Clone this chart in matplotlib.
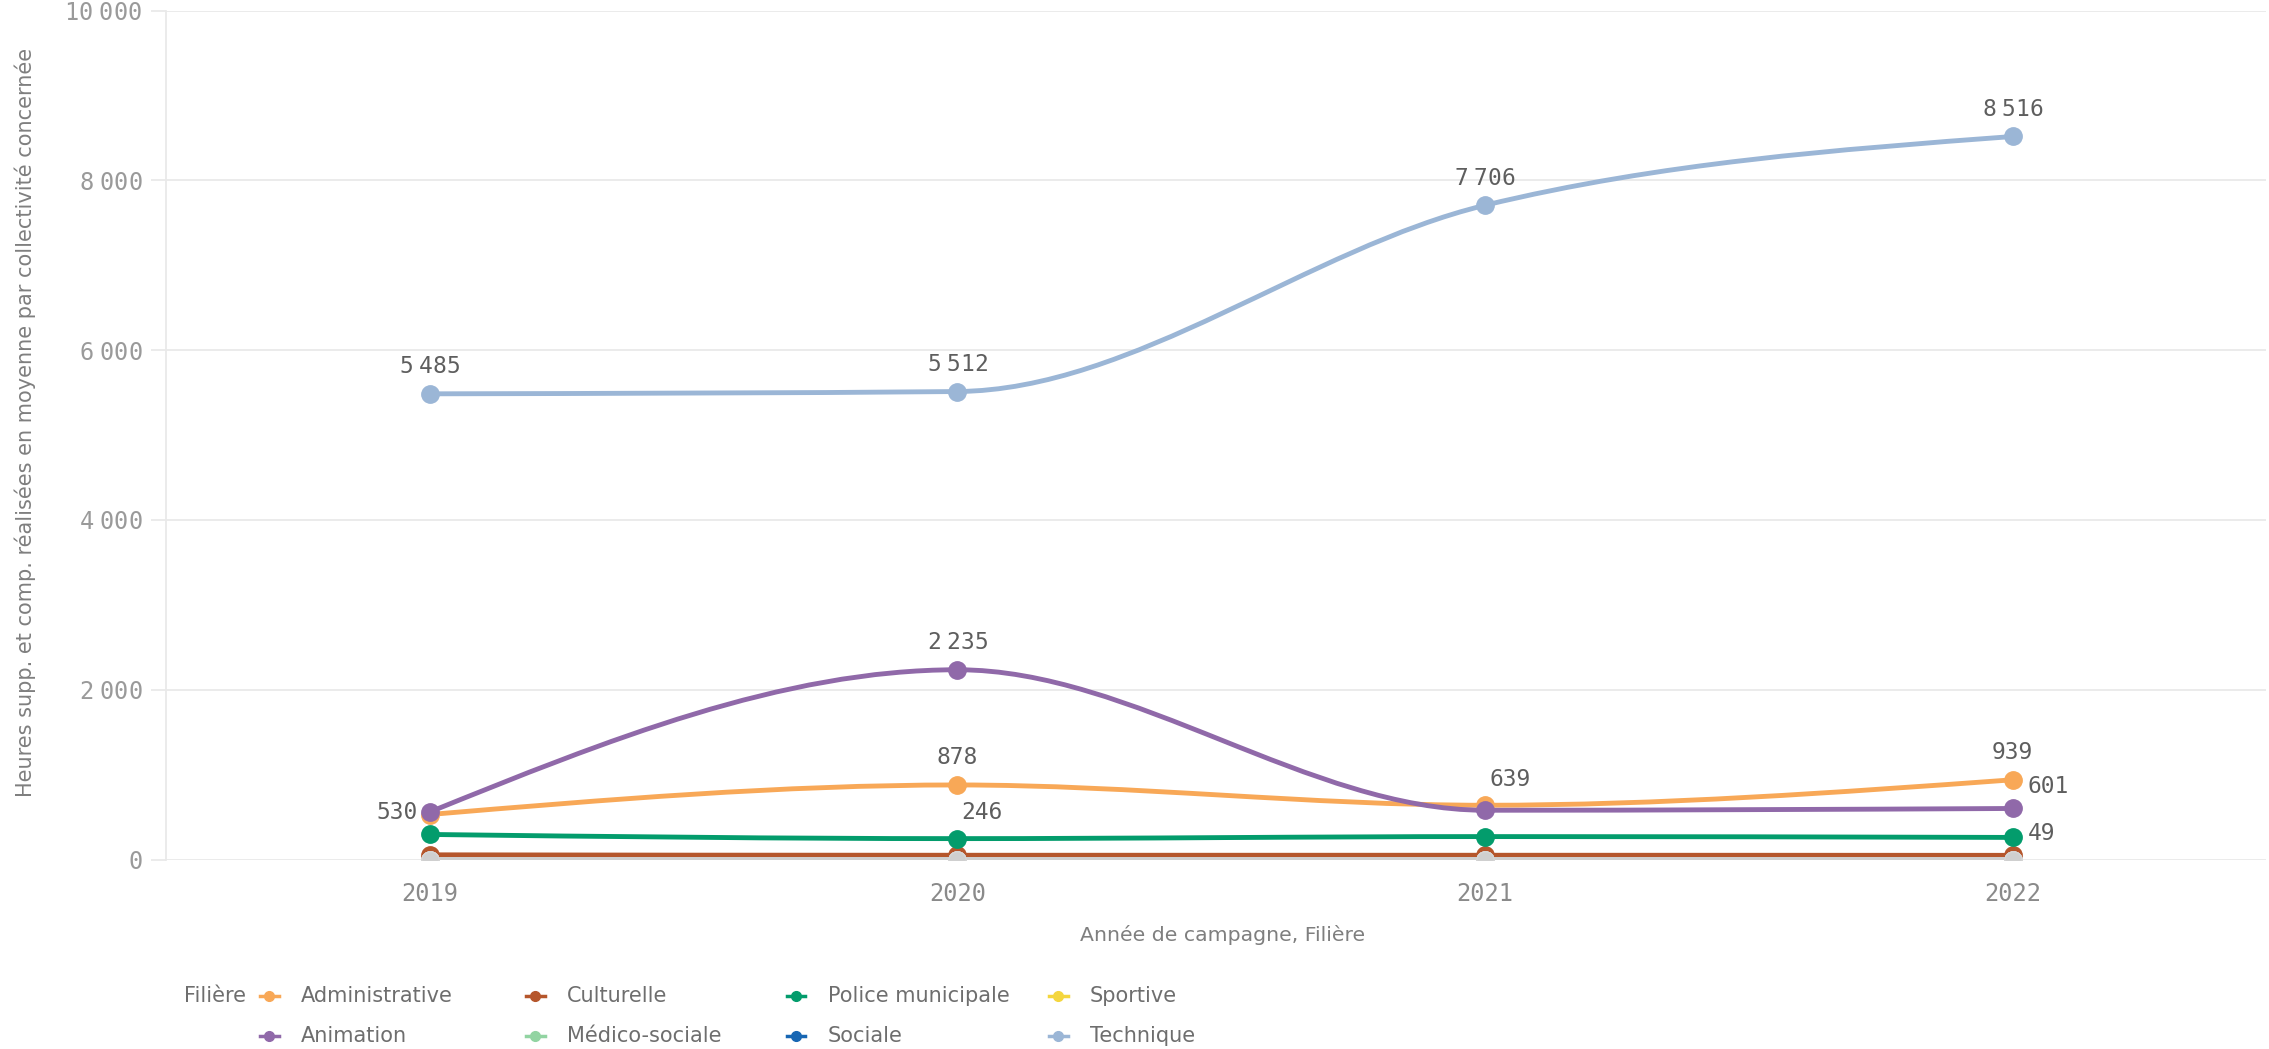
import matplotlib
matplotlib.use('Agg')
import matplotlib.pyplot as plt
import numpy as np
from matplotlib.path import Path
from matplotlib.patches import PathPatch
from matplotlib.lines import Line2D

# ---------------- data ----------------
years = ['2019', '2020', '2021', '2022']
administrative = [530, 878, 639, 939]
animation = [560, 2235, 580, 601]
culturelle = [55, 50, 50, 49]
medico_sociale = [0, 0, 0, 0]
police_municipale = [295, 246, 270, 260]
sociale = [0, 0, 0, 0]
sportive = [0, 0, 0, 0]
technique = [5485, 5512, 7706, 8516]

y_ticks = [0, 2000, 4000, 6000, 8000, 10000]

# ---------------- styles ----------------
W, H = 2269, 1049
colors = {
    'Administrative': '#f8a857',
    'Animation': '#9069a9',
    'Culturelle': '#b5562c',
    'Médico-sociale': '#92d4a2',
    'Police municipale': '#039c6c',
    'Sociale': '#1766b3',
    'Sportive': '#f4d63e',
    'Technique': '#9bb6d6',
}
series = {
    'Administrative': administrative,
    'Animation': animation,
    'Culturelle': culturelle,
    'Médico-sociale': medico_sociale,
    'Police municipale': police_municipale,
    'Sociale': sociale,
    'Sportive': sportive,
    'Technique': technique,
}
# drawing order (bottom -> top)
draw_order = ['Technique', 'Culturelle', 'Sportive', 'Médico-sociale', 'Sociale',
              'Police municipale', 'Administrative', 'Animation']
null_grey = '#cfcfcf'
null_series = ['Sportive', 'Médico-sociale', 'Sociale']

# label placement per point: 'up', 'upright', 'right', 'left', None
label_place = {
    'Technique': ['up', 'up', 'up', 'up'],
    'Animation': [None, 'up', None, 'right'],
    'Administrative': ['left', 'up', 'upright', 'up'],
    'Police municipale': [None, 'upright', None, None],
    'Culturelle': [None, None, None, 'right'],
}


def fmt(v):
    s = f'{v:,.0f}'
    return s.replace(',', r'$\;$')


def monotone_path(xs, ys):
    xs = np.asarray(xs, float)
    ys = np.asarray(ys, float)
    n = len(xs)
    h = np.diff(xs)
    s = np.diff(ys) / h
    t = np.zeros(n)
    for i in range(1, n - 1):
        s0, s1 = s[i - 1], s[i]
        p = (s0 * h[i] + s1 * h[i - 1]) / (h[i - 1] + h[i])
        t[i] = (np.sign(s0) + np.sign(s1)) * min(abs(s0), abs(s1), 0.5 * abs(p))
    t[0] = (3 * s[0] - t[1]) / 2
    t[-1] = (3 * s[-1] - t[-2]) / 2
    verts = [(xs[0], ys[0])]
    codes = [Path.MOVETO]
    for i in range(n - 1):
        dx = h[i] / 3
        verts += [(xs[i] + dx, ys[i] + dx * t[i]),
                  (xs[i + 1] - dx, ys[i + 1] - dx * t[i + 1]),
                  (xs[i + 1], ys[i + 1])]
        codes += [Path.CURVE4] * 3
    return Path(verts, codes)


fig = plt.figure(figsize=(W / 100, H / 100), dpi=100)
ax = fig.add_axes([166 / W, 1 - 859.5 / H, (2266 - 166) / W, (859.5 - 10.5) / H])

x = np.arange(len(years))
grid_c = '#e9e9e9'
for gy in y_ticks:
    ax.axhline(gy, color=grid_c, lw=1.3, zorder=0)

z = 2
for name in draw_order:
    vals = series[name]
    col = null_grey if name in null_series else colors[name]
    patch = PathPatch(monotone_path(x, vals), fill=False, edgecolor=col,
                      lw=3.5, capstyle='round', joinstyle='round', zorder=z)
    ax.add_patch(patch)
    ax.plot(x, vals, linestyle='none', marker='o', markersize=12.5,
            markerfacecolor=col, markeredgecolor=col if name not in null_series else '#d6d6d6',
            markeredgewidth=1, zorder=z + 0.5)
    z += 1

lab_font = dict(family='DejaVu Sans Mono', fontsize=16.5, color='#5e5e5e')
for name, places in label_place.items():
    vals = series[name]
    for i, pl in enumerate(places):
        if pl is None:
            continue
        if pl == 'up':
            off, ha = (0, 27), 'center'
        elif pl == 'upright':
            off, ha = (4, 26), 'left'
        elif pl == 'right':
            off, ha = (15, 22), 'left'
        else:  # left
            off, ha = (-12, 2), 'right'
        ax.annotate(fmt(vals[i]), (x[i], vals[i]), xytext=off,
                    textcoords='offset pixels', ha=ha, va='center',
                    zorder=20, **lab_font)

ax.set_xlim(-0.5, 3.48)
ax.set_ylim(0, 10000)
ax.set_xticks(x)
ax.set_xticklabels(years)
ax.set_yticks(y_ticks)
ax.set_yticklabels([fmt(v) for v in y_ticks])
for sp in ['top', 'right', 'bottom']:
    ax.spines[sp].set_visible(False)
ax.spines['left'].set_color(grid_c)
ax.spines['left'].set_linewidth(1.3)
ax.tick_params(axis='x', length=0, pad=16.5, labelsize=17, labelcolor='#8a8a8a')
ax.tick_params(axis='y', length=11, width=1.3, color=grid_c, pad=6, labelsize=17,
               labelcolor='#9a9a9a')
for lbl in ax.get_xticklabels() + ax.get_yticklabels():
    lbl.set_family('DejaVu Sans Mono')

ax.set_ylabel('Heures supp. et comp. réalisées en moyenne par collectivité concernée',
              fontsize=15, color='#7f7f7f')
ax.yaxis.set_label_coords((36 - 166) / 2100, 0.515)
ax.set_xlabel('Année de campagne, Filière', fontsize=14.7, color='#7f7f7f')
ax.xaxis.set_label_coords((1223 - 166) / 2100, -(925 - 859.5) / 849)

# ---------------- legend ----------------
legend_cols = [['Administrative', 'Animation'], ['Culturelle', 'Médico-sociale'],
               ['Police municipale', 'Sociale'], ['Sportive', 'Technique']]
col_x = [269, 535, 796, 1058]
row_y = [996, 1036]
fig.text(184 / W, 1 - 996 / H, 'Filière', fontsize=15, color='#6e6e6e',
         ha='left', va='center')
for ci, names in enumerate(legend_cols):
    for ri, name in enumerate(names):
        cx, cy = col_x[ci] / W, 1 - row_y[ri] / H
        fig.add_artist(Line2D([cx - 9.5 / W, cx + 9.5 / W], [cy, cy], color=colors[name],
                              lw=2.5, transform=fig.transFigure))
        fig.add_artist(Line2D([cx], [cy], marker='o', markersize=7, color=colors[name],
                              linestyle='none', transform=fig.transFigure))
        fig.text(cx + 32 / W, cy, name, fontsize=15, color='#6e6e6e', ha='left', va='center')

fig.savefig('out.png', dpi=100, facecolor='white')
